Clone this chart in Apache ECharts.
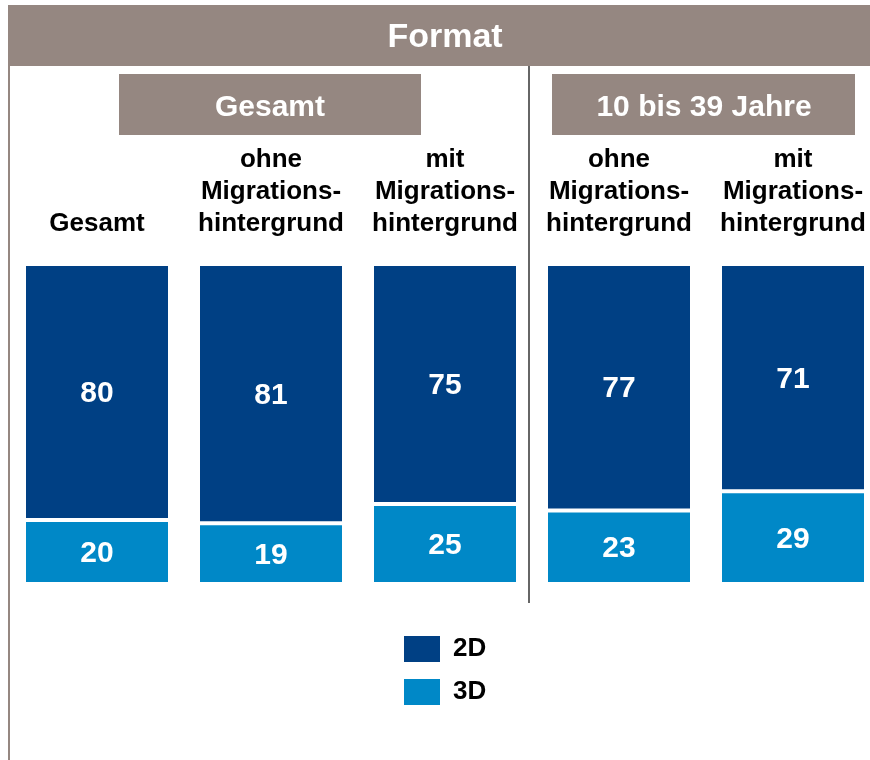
<!DOCTYPE html>
<html>
<head>
<meta charset="utf-8">
<script src="https://cdn.jsdelivr.net/npm/echarts@6/dist/echarts.min.js"></script>
<style>
  html, body { margin: 0; padding: 0; background: #fff; }
  #chart { width: 870px; height: 760px; }
</style>
</head>
<body>
<div id="chart"></div>
<script>
// Kategorien und Werte (Prozent)
var categories = ['Gesamt', 'ohne\nMigrations-\nhintergrund', 'mit\nMigrations-\nhintergrund', 'ohne\nMigrations-\nhintergrund', 'mit\nMigrations-\nhintergrund'];
var values2D = [80, 81, 75, 77, 71];
var values3D = [20, 19, 25, 23, 29];
var groupTitles = ['Gesamt', '10 bis 39 Jahre'];

var FONT = '"Liberation Sans", Arial, sans-serif';
var HEAD = '#958781';

var chart = echarts.init(document.getElementById('chart'));
chart.setOption({
  animation: false,
  textStyle: { fontFamily: FONT },
  grid: { left: 10, width: 870, top: 264, bottom: 176, outerBoundsMode: 'none' },
  xAxis: {
    type: 'category',
    position: 'top',
    data: categories,
    axisLine: { show: false },
    axisTick: { show: false },
    axisLabel: {
      interval: 0,
      margin: 24,
      color: '#000',
      fontSize: 26,
      fontWeight: 'bold',
      lineHeight: 32,
      fontFamily: FONT
    }
  },
  yAxis: { type: 'value', min: 0, max: 100, show: false },
  legend: {
    orient: 'vertical',
    left: 397,
    top: 629,
    itemWidth: 38,
    itemHeight: 28,
    itemGap: 13,
    icon: 'rect',
    data: ['2D', '3D'],
    textStyle: { fontSize: 26, fontWeight: 'bold', color: '#000', fontFamily: FONT, padding: [0, 0, 0, 7] }
  },
  graphic: [
    { type: 'line', shape: { x1: 9, y1: 5, x2: 9, y2: 760 }, style: { stroke: HEAD, lineWidth: 2 } },
    { type: 'rect', shape: { x: 8, y: 5, width: 862, height: 61 }, style: { fill: HEAD } },
    { type: 'text', x: 445, y: 38, style: { text: 'Format', fill: '#fff', font: 'bold 34px ' + FONT, textAlign: 'center', textVerticalAlign: 'middle' } },
    { type: 'line', shape: { x1: 529, y1: 66, x2: 529, y2: 603 }, style: { stroke: '#333', lineWidth: 1.5 } },
    { type: 'rect', shape: { x: 119, y: 74, width: 302, height: 61 }, style: { fill: HEAD } },
    { type: 'text', x: 270, y: 108, style: { text: groupTitles[0], fill: '#fff', font: 'bold 30px ' + FONT, textAlign: 'center', textVerticalAlign: 'middle' } },
    { type: 'rect', shape: { x: 552, y: 74, width: 303, height: 61 }, style: { fill: HEAD } },
    { type: 'text', x: 704, y: 108, style: { text: groupTitles[1], fill: '#fff', font: 'bold 30px ' + FONT, textAlign: 'center', textVerticalAlign: 'middle' } }
  ],
  series: [
    {
      name: '3D',
      type: 'bar',
      stack: 'format',
      barWidth: 146,
      data: values3D,
      itemStyle: { color: '#0088C7', borderColor: '#fff', borderWidth: 2 },
      label: { show: true, position: 'inside', offset: [0, 2], color: '#fff', fontSize: 30, fontWeight: 'bold', fontFamily: FONT }
    },
    {
      name: '2D',
      type: 'bar',
      stack: 'format',
      barWidth: 146,
      data: values2D,
      itemStyle: { color: '#004084', borderColor: '#fff', borderWidth: 2 },
      label: { show: true, position: 'inside', offset: [0, 2], color: '#fff', fontSize: 30, fontWeight: 'bold', fontFamily: FONT }
    }
  ]
});
</script>
</body>
</html>
